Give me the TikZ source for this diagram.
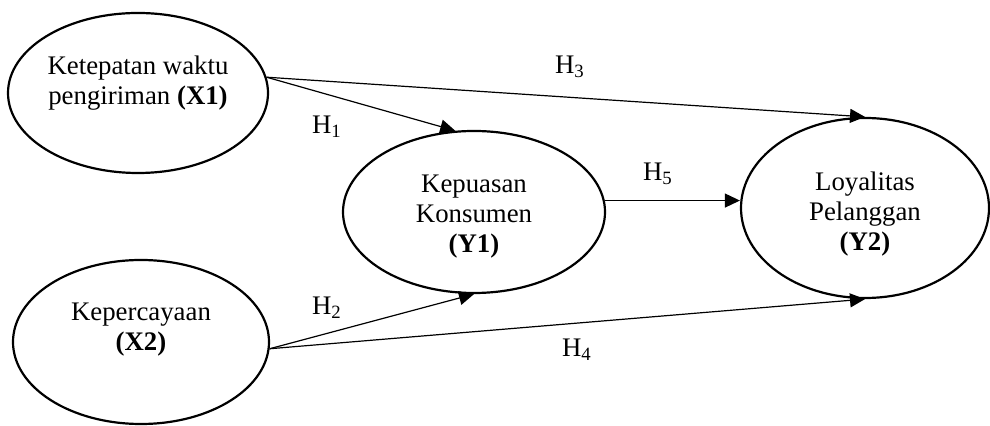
\documentclass[tikz,border=0pt]{standalone}
\usepackage{fontspec}
\setmainfont{Liberation Serif}
\usetikzlibrary{shapes.geometric, arrows.meta}
\tikzset{
  latent/.style = {ellipse, draw, line width=1.1pt, inner sep=0pt},
  vlabel/.style = {align=center, font=\fontsize{13.4}{15}\selectfont},
  hyp/.style    = {font=\fontsize{13.4}{15}\selectfont, inner sep=0pt},
  arr/.style    = {-{Triangle[length=7.5pt,width=7pt]}, line width=0.6pt},
}
\begin{document}
\begin{tikzpicture}[x=0.5pt, y=-0.5pt]
  \useasboundingbox (0,0) rectangle (990,426);

  % constructs
  \node[latent, minimum width=130pt, minimum height=80pt,
        label={[vlabel, yshift=5pt]center:Ketepatan waktu\\pengiriman \textbf{(X1)}}]
        (X1) at (138,93) {};
  \node[latent, minimum width=128pt, minimum height=82pt,
        label={[vlabel, yshift=6pt]center:Kepercayaan\\\textbf{(X2)}}]
        (X2) at (141,342) {};
  \node[latent, minimum width=131pt, minimum height=81pt,
        label={[vlabel, yshift=-2.5pt]center:Kepuasan\\Konsumen\\\textbf{(Y1)}}]
        (Y1) at (474,212) {};
  \node[latent, minimum width=124pt, minimum height=90pt,
        label={[vlabel, yshift=-3pt]center:Loyalitas\\Pelanggan\\\textbf{(Y2)}}]
        (Y2) at (865,208) {};

  % paths
  \draw[arr] (X1.7) -- (Y1.103);
  \draw[arr] (X1.7) -- (Y2.north);
  \draw[arr] (X2.-3) -- (Y1.south);
  \draw[arr] (X2.-3) -- (Y2.south);
  \draw[arr] (Y1.5) -- (Y1.5 -| Y2.west);

  % hypotheses
  \node[hyp] (h1) at (327,127) {H\textsubscript{1}};
  \node[hyp] (h2) at (327,308) {H\textsubscript{2}};
  \node[hyp] (h3) at (570,67)  {H\textsubscript{3}};
  \node[hyp] (h4) at (577,350) {H\textsubscript{4}};
  \node[hyp] (h5) at (658,174) {H\textsubscript{5}};
\end{tikzpicture}
\end{document}
